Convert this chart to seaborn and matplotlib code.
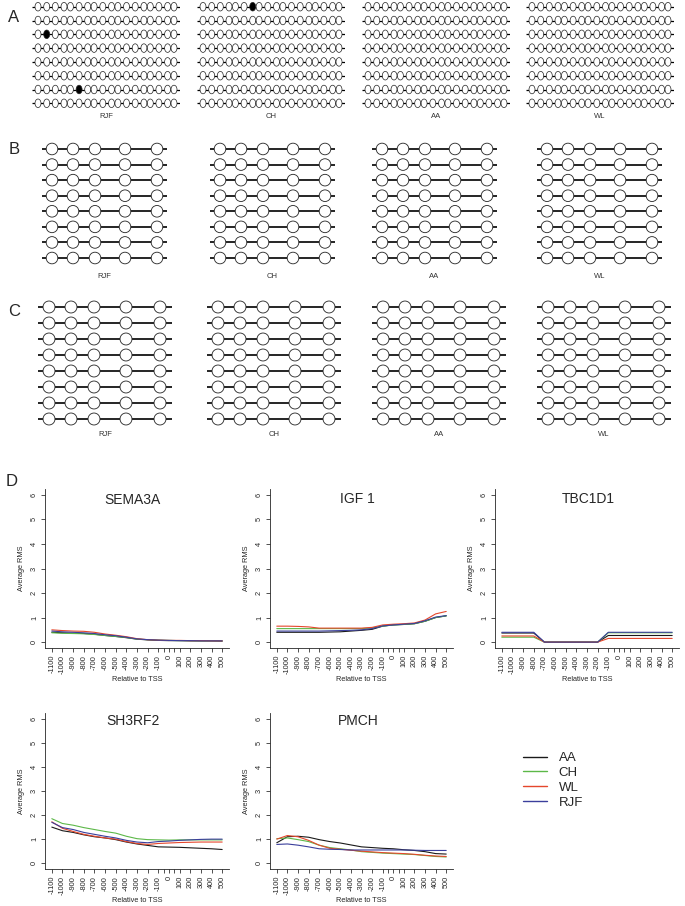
import matplotlib
matplotlib.use("Agg")
import matplotlib.pyplot as plt
import seaborn as sns
import pandas as pd
from matplotlib.path import Path
from matplotlib.transforms import Affine2D


sns.set_theme(style="ticks")
plt.rcParams["font.family"] = ["Liberation Sans", "DejaVu Sans"]

W, H = 685, 906

# ---- bisulfite clone panels -------------------------------------------------
GROUPS = ["RJF", "CH", "AA", "WL"]
N_CLONES = 8

# CpG positions along each amplicon (relative units) and methylated calls (clone, site index)
A_LENGTH = 148
A_SITES = [6, 14.7, 23.3, 32, 38.4, 47.1, 55.7, 62.1, 70.8, 79.5, 85.9, 94.5, 103.2,
           111.9, 118.3, 126.9, 135.6, 142]
A_METHYLATED = {"RJF": [(3, 1), (7, 5)], "CH": [(1, 6)], "AA": [], "WL": []}

B_LENGTH = 125
B_SITES = [10, 31, 53, 83, 115]
B_METHYLATED = {"RJF": [], "CH": [], "AA": [], "WL": []}

C_LENGTH = 134
C_SITES = [11, 33, 56, 88, 122]
C_METHYLATED = {"RJF": [], "CH": [], "AA": [], "WL": []}

# ---- average RMS line panels ------------------------------------------------
BREEDS = ["AA", "CH", "WL", "RJF"]
BREED_COLORS = ["#1a1a1a", "#5cb848", "#e5472c", "#3b3f9c"]
TSS_POS = [-1100, -1000, -900, -800, -700, -600, -500, -400, -300, -200, -100,
           0, 100, 200, 300, 400, 500]
TSS_TICKS = [-1100, -1000, -900, -800, -700, -600, -500, -400, -300, -200, -100,
             -50, 0, 50, 100, 200, 300, 400, 500]

SEMA3A = {
    "AA":  [0.40, 0.38, 0.36, 0.35, 0.32, 0.27, 0.23, 0.18, 0.12, 0.09, 0.07, 0.06, 0.06, 0.05, 0.05, 0.05, 0.04],
    "CH":  [0.38, 0.36, 0.35, 0.34, 0.31, 0.27, 0.23, 0.19, 0.12, 0.10, 0.08, 0.07, 0.06, 0.06, 0.05, 0.05, 0.05],
    "WL":  [0.50, 0.47, 0.45, 0.44, 0.40, 0.33, 0.28, 0.22, 0.14, 0.10, 0.08, 0.07, 0.07, 0.06, 0.06, 0.05, 0.05],
    "RJF": [0.45, 0.42, 0.40, 0.38, 0.35, 0.30, 0.26, 0.20, 0.13, 0.10, 0.08, 0.07, 0.06, 0.06, 0.05, 0.05, 0.05],
}
IGF1 = {
    "AA":  [0.40, 0.40, 0.40, 0.40, 0.40, 0.41, 0.42, 0.45, 0.48, 0.52, 0.65, 0.70, 0.72, 0.75, 0.85, 1.00, 1.07],
    "CH":  [0.55, 0.55, 0.55, 0.55, 0.55, 0.55, 0.55, 0.55, 0.55, 0.58, 0.65, 0.70, 0.72, 0.75, 0.85, 1.00, 1.07],
    "WL":  [0.65, 0.65, 0.64, 0.62, 0.57, 0.57, 0.57, 0.57, 0.57, 0.60, 0.70, 0.73, 0.75, 0.78, 0.90, 1.15, 1.25],
    "RJF": [0.45, 0.45, 0.45, 0.45, 0.45, 0.46, 0.47, 0.48, 0.50, 0.55, 0.66, 0.70, 0.73, 0.76, 0.87, 1.02, 1.08],
}
TBC1D1 = {
    "AA":  [0.37, 0.37, 0.37, 0.37, 0.0, 0.0, 0.0, 0.0, 0.0, 0.0, 0.27, 0.27, 0.27, 0.27, 0.27, 0.27, 0.27],
    "CH":  [0.20, 0.20, 0.20, 0.20, 0.0, 0.0, 0.0, 0.0, 0.0, 0.0, 0.38, 0.38, 0.38, 0.38, 0.38, 0.38, 0.38],
    "WL":  [0.25, 0.25, 0.25, 0.25, 0.0, 0.0, 0.0, 0.0, 0.0, 0.0, 0.15, 0.15, 0.15, 0.15, 0.15, 0.15, 0.15],
    "RJF": [0.40, 0.40, 0.40, 0.40, 0.0, 0.0, 0.0, 0.0, 0.0, 0.0, 0.40, 0.40, 0.40, 0.40, 0.40, 0.40, 0.40],
}
SH3RF2 = {
    "AA":  [1.50, 1.35, 1.28, 1.18, 1.10, 1.05, 0.98, 0.88, 0.80, 0.74, 0.68, 0.67, 0.66, 0.64, 0.62, 0.60, 0.57],
    "CH":  [1.85, 1.65, 1.58, 1.48, 1.40, 1.32, 1.25, 1.12, 1.02, 0.98, 0.97, 0.96, 0.97, 0.97, 0.97, 0.97, 0.97],
    "WL":  [1.72, 1.45, 1.32, 1.20, 1.12, 1.05, 1.00, 0.90, 0.82, 0.78, 0.82, 0.84, 0.86, 0.87, 0.88, 0.88, 0.88],
    "RJF": [1.70, 1.48, 1.40, 1.28, 1.20, 1.12, 1.05, 0.95, 0.88, 0.85, 0.90, 0.92, 0.95, 0.97, 0.99, 1.00, 1.00],
}
PMCH = {
    "AA":  [0.85, 1.10, 1.12, 1.08, 0.98, 0.90, 0.84, 0.76, 0.68, 0.65, 0.62, 0.60, 0.56, 0.53, 0.48, 0.40, 0.38],
    "CH":  [1.02, 1.05, 0.98, 0.90, 0.75, 0.65, 0.60, 0.55, 0.48, 0.45, 0.42, 0.40, 0.38, 0.36, 0.32, 0.28, 0.26],
    "WL":  [1.00, 1.15, 1.10, 0.95, 0.75, 0.62, 0.58, 0.54, 0.50, 0.47, 0.44, 0.42, 0.40, 0.37, 0.33, 0.30, 0.28],
    "RJF": [0.78, 0.80, 0.75, 0.68, 0.60, 0.58, 0.57, 0.55, 0.55, 0.55, 0.55, 0.55, 0.55, 0.54, 0.53, 0.53, 0.53],
}

fig = plt.figure(figsize=(W / 100, H / 100), dpi=100)

# the dense amplicon in A is drawn with narrow ovals
OVAL = Path.unit_circle().transformed(Affine2D().scale(0.7, 1.0))


def px_axes(left, top, right, bottom):
    return fig.add_axes([left / W, 1 - bottom / H, (right - left) / W, (bottom - top) / H])


def draw_clones(left, top, bottom, length, sites, methylated, size, lw, marker, ew):
    ax = px_axes(left, top, left + length, bottom)
    rows = list(range(1, N_CLONES + 1))
    ax.hlines(rows, 0, length, color="black", lw=lw, zorder=1)
    recs = []
    for r in rows:
        for i, s in enumerate(sites):
            recs.append({"site": s, "clone": r, "state": "M" if (r, i) in methylated else "U"})
    df = pd.DataFrame(recs)
    sns.scatterplot(data=df, x="site", y="clone", hue="state",
                    palette={"U": "white", "M": "black"}, s=size, marker=marker,
                    edgecolor="#222222", linewidth=ew, legend=False, ax=ax, zorder=2)
    ax.set_xlim(0, length)
    ax.set_ylim(N_CLONES + 0.5, 0.5)
    ax.axis("off")
    return ax


def draw_panel(lefts, top, bottom, label_y, length, sites, meth, size, lw, marker, ew):
    for grp, left in zip(GROUPS, lefts):
        draw_clones(left, top, bottom, length, sites, meth[grp], size, lw, marker, ew)
        fig.text((left + length / 2) / W, 1 - label_y / H, grp,
                 ha="center", va="center", fontsize=5.5, color="#333333")


draw_panel([32, 197, 362, 526], -0.2, 110.2, 117, A_LENGTH, A_SITES, A_METHYLATED,
           38, 0.9, OVAL, 0.5)
draw_panel([42, 210, 372, 537], 141.2, 265.8, 276, B_LENGTH, B_SITES, B_METHYLATED,
           70, 1.2, "o", 0.6)
draw_panel([38, 207, 372, 537], 299, 427, 435, C_LENGTH, C_SITES, C_METHYLATED,
           74, 1.2, "o", 0.6)

for letter, (x, y) in zip("ABCD", [(14, 18), (14, 150), (14, 312), (12, 481)]):
    fig.text(x / W, 1 - y / H, letter, ha="center", va="center", fontsize=12)


def draw_gene(box, title_xy, name, values, legend=False):
    left, top, right, bottom = box
    ax = px_axes(left, top, right, bottom)
    recs = []
    for b in BREEDS:
        for p, v in zip(TSS_POS, values[b]):
            recs.append({"pos": p, "rms": v, "breed": b})
    df = pd.DataFrame(recs)
    sns.lineplot(data=df, x="pos", y="rms", hue="breed", hue_order=BREEDS,
                 palette=BREED_COLORS, linewidth=0.8, ax=ax, legend=legend)
    ax.set_xlim(-1164, 564)
    ax.set_ylim(-0.24, 6.24)
    ax.set_xticks(TSS_TICKS)
    ax.set_xticklabels(["" if t in (-50, 50) else str(t) for t in TSS_TICKS],
                       rotation=90, fontsize=5.3)
    ax.set_yticks(range(7))
    ax.set_yticklabels([str(v) for v in range(7)], rotation=90, fontsize=5.3, va="center")
    ax.tick_params(length=3, width=0.6, pad=2, color="#333333")
    sns.despine(ax=ax)
    for sp in ax.spines.values():
        sp.set_linewidth(0.6)
    ax.set_xlabel("Relative to TSS", fontsize=5.3, labelpad=1.5)
    ax.set_ylabel("Average RMS", fontsize=5.3, labelpad=4.5)
    fig.text(title_xy[0] / W, 1 - title_xy[1] / H, name, ha="center", va="center", fontsize=10)
    return ax


draw_gene((45, 489, 229, 648), (132, 500), "SEMA3A", SEMA3A)
draw_gene((270, 489, 453, 648), (357, 499), "IGF 1", IGF1)
draw_gene((495, 489, 679, 648), (588, 499), "TBC1D1", TBC1D1)
draw_gene((45, 713, 229, 869), (133, 721), "SH3RF2", SH3RF2)
ax = draw_gene((270, 713, 453, 869), (358, 721), "PMCH", PMCH, legend=True)

handles, labels = ax.get_legend_handles_labels()
ax.get_legend().remove()
for h in handles:
    h.set_linewidth(1.0)
fig.legend(handles, labels, loc="upper left", bbox_to_anchor=(523 / W, 1 - 752 / H),
           frameon=False, fontsize=9.5, handlelength=1.8, handletextpad=0.9,
           labelspacing=0.2, borderpad=0, borderaxespad=0)

fig.savefig("out.png", dpi=100)
